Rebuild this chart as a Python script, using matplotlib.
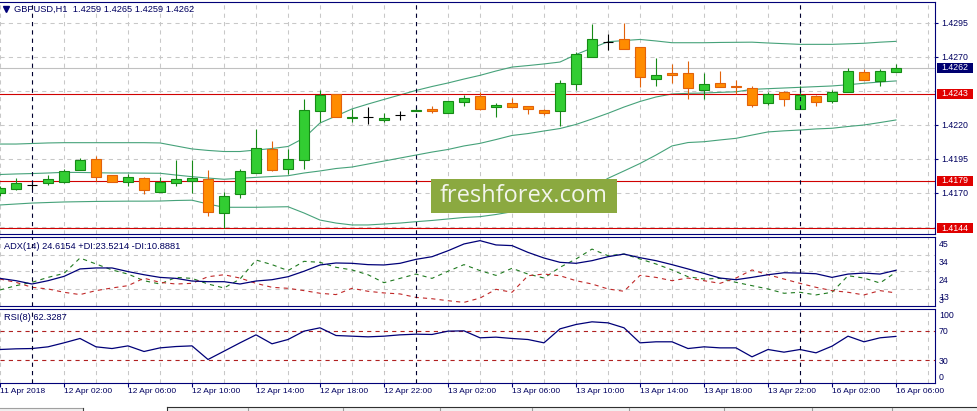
import numpy as np
import matplotlib
matplotlib.use("Agg")
import matplotlib.pyplot as plt
from matplotlib.patches import Rectangle
from matplotlib import rcParams

rcParams["font.family"] = ["Liberation Sans", "DejaVu Sans"]
rcParams["lines.scale_dashes"] = False

W, H = 977, 411
NAVY = "#000078"
TXT = "#000060"
GRID = "#c8c8c8"
FS = 6.3

# GBPUSD H1 bars, 11 Apr 22:00 ... 16 Apr 06:00 (weekend gap after 13 Apr 23:00)
opens = [1.4170, 1.4173, 1.4176, 1.4177, 1.4178, 1.4187, 1.4195, 1.4183, 1.4178, 1.4181,
         1.4171, 1.4177, 1.4179, 1.4180, 1.4155, 1.4169, 1.4185, 1.4202, 1.4188, 1.4194,
         1.4230, 1.4243, 1.4225, 1.4226, 1.4224, 1.4227, 1.4230, 1.4232, 1.4229, 1.4237,
         1.4241, 1.4233, 1.4236, 1.4234, 1.4231, 1.4230, 1.4250, 1.4270, 1.4281, 1.4283,
         1.4277, 1.4254, 1.4258, 1.4258, 1.4246, 1.4251, 1.4249, 1.4247, 1.4236, 1.4244,
         1.4232, 1.4241, 1.4238, 1.4244, 1.4259, 1.4252, 1.4259]
highs = [1.4175, 1.4181, 1.4178, 1.4183, 1.4188, 1.4196, 1.4197, 1.4183, 1.4184, 1.4182,
         1.4182, 1.4194, 1.4194, 1.4187, 1.4171, 1.4188, 1.4217, 1.4208, 1.4202, 1.4239,
         1.4246, 1.4243, 1.4232, 1.4233, 1.4229, 1.4230, 1.4233, 1.4234, 1.4238, 1.4242,
         1.4244, 1.4236, 1.4240, 1.4234, 1.4232, 1.4253, 1.4274, 1.4294, 1.4287, 1.4295,
         1.4277, 1.4269, 1.4265, 1.4267, 1.4258, 1.4260, 1.4253, 1.4249, 1.4244, 1.4245,
         1.4249, 1.4242, 1.4246, 1.4262, 1.4261, 1.4261, 1.4265]
lows = [1.4168, 1.4172, 1.4173, 1.4176, 1.4177, 1.4187, 1.4179, 1.4178, 1.4175, 1.4169,
        1.4171, 1.4175, 1.4170, 1.4153, 1.4144, 1.4166, 1.4185, 1.4186, 1.4184, 1.4188,
        1.4222, 1.4226, 1.4222, 1.4221, 1.4222, 1.4224, 1.4230, 1.4229, 1.4229, 1.4234,
        1.4231, 1.4226, 1.4233, 1.4228, 1.4227, 1.4219, 1.4246, 1.4270, 1.4275, 1.4276,
        1.4248, 1.4249, 1.4251, 1.4239, 1.4239, 1.4248, 1.4243, 1.4233, 1.4235, 1.4234,
        1.4232, 1.4234, 1.4236, 1.4244, 1.4253, 1.4249, 1.4259]
closes = [1.4174, 1.4177, 1.4176, 1.4180, 1.4186, 1.4194, 1.4182, 1.4178, 1.4182, 1.4172,
          1.4178, 1.4180, 1.4181, 1.4156, 1.4168, 1.4186, 1.4203, 1.4187, 1.4195, 1.4231,
          1.4242, 1.4226, 1.4226, 1.4226, 1.4225, 1.4227, 1.4231, 1.4230, 1.4238, 1.4240,
          1.4232, 1.4235, 1.4233, 1.4232, 1.4229, 1.4251, 1.4272, 1.4283, 1.4281, 1.4276,
          1.4255, 1.4257, 1.4257, 1.4247, 1.4250, 1.4248, 1.4248, 1.4235, 1.4243, 1.4239,
          1.4242, 1.4237, 1.4244, 1.4260, 1.4253, 1.4260, 1.4262]

# Bollinger bands
bb_upper = [1.42060, 1.42060, 1.42064, 1.42068, 1.42070, 1.42070, 1.42070, 1.42070, 1.42070, 1.42070,
            1.42068, 1.42046, 1.42024, 1.42013, 1.42005, 1.42005, 1.42016, 1.42027, 1.42042, 1.42104,
            1.42215, 1.42266, 1.42318, 1.42354, 1.42388, 1.42421, 1.42454, 1.42483, 1.42509, 1.42538,
            1.42565, 1.42597, 1.42626, 1.42637, 1.42649, 1.42663, 1.42718, 1.42766, 1.42812, 1.42821,
            1.42829, 1.42818, 1.42805, 1.42805, 1.42805, 1.42807, 1.42808, 1.42809, 1.42803, 1.42798,
            1.42793, 1.42793, 1.42793, 1.42797, 1.42801, 1.42809, 1.42815]
bb_mid = [1.41836, 1.41840, 1.41843, 1.41847, 1.41852, 1.41851, 1.41849, 1.41847, 1.41847, 1.41846,
          1.41845, 1.41832, 1.41820, 1.41810, 1.41801, 1.41808, 1.41815, 1.41821, 1.41827, 1.41847,
          1.41862, 1.41880, 1.41891, 1.41913, 1.41935, 1.41957, 1.41979, 1.42001, 1.42020, 1.42046,
          1.42065, 1.42093, 1.42123, 1.42137, 1.42156, 1.42174, 1.42204, 1.42244, 1.42286, 1.42332,
          1.42373, 1.42406, 1.42428, 1.42433, 1.42435, 1.42440, 1.42444, 1.42462, 1.42467, 1.42472,
          1.42477, 1.42482, 1.42487, 1.42496, 1.42507, 1.42516, 1.42524]
bb_lower = [1.41612, 1.41619, 1.41626, 1.41630, 1.41634, 1.41636, 1.41638, 1.41639, 1.41640, 1.41640,
            1.41641, 1.41645, 1.41647, 1.41619, 1.41595, 1.41595, 1.41595, 1.41597, 1.41599, 1.41553,
            1.41501, 1.41479, 1.41465, 1.41465, 1.41472, 1.41479, 1.41489, 1.41498, 1.41509, 1.41520,
            1.41526, 1.41542, 1.41562, 1.41586, 1.41612, 1.41634, 1.41671, 1.41737, 1.41808, 1.41862,
            1.41917, 1.41979, 1.42046, 1.42071, 1.42077, 1.42090, 1.42102, 1.42126, 1.42149, 1.42157,
            1.42163, 1.42171, 1.42176, 1.42189, 1.42200, 1.42218, 1.42237]

# ADX(14)
adx = [19.7, 18.3, 16.3, 18.3, 20.9, 25.4, 26.0, 26.0, 23.8, 21.9,
       20.3, 19.7, 18.1, 17.7, 17.7, 16.3, 18.1, 18.9, 20.7, 24.0,
       27.8, 29.0, 28.8, 28.0, 27.8, 28.8, 31.2, 32.8, 36.4, 40.5,
       42.5, 39.9, 39.5, 35.4, 32.0, 29.4, 28.8, 30.4, 32.8, 34.4,
       32.2, 30.4, 28.0, 25.4, 22.7, 19.9, 18.9, 20.3, 21.9, 23.1,
       22.9, 22.5, 20.3, 22.3, 22.9, 22.3, 24.6]
plus_di = [12.7, 15.3, 17.3, 20.3, 22.7, 32.0, 28.4, 24.8, 22.3, 18.3,
           16.3, 20.3, 19.7, 16.3, 13.9, 19.3, 30.8, 28.0, 24.4, 30.0,
           29.4, 26.4, 24.8, 21.9, 17.1, 19.7, 22.3, 19.7, 24.0, 28.0,
           24.4, 21.5, 25.8, 22.3, 19.9, 26.4, 31.4, 37.4, 33.4, 34.4,
           31.4, 28.4, 24.8, 20.7, 19.3, 19.7, 17.3, 15.3, 13.3, 10.7,
           11.3, 9.7, 11.3, 21.3, 19.9, 16.9, 23.5]
minus_di = [19.3, 17.3, 14.3, 13.3, 11.3, 9.9, 12.3, 13.9, 15.3, 19.8,
            17.3, 16.3, 16.7, 20.7, 21.9, 19.9, 16.7, 14.3, 13.7, 12.3,
            10.7, 9.9, 13.7, 11.9, 10.9, 10.3, 8.2, 7.4, 6.2, 5.2,
            7.8, 13.1, 11.3, 21.3, 22.3, 21.3, 18.3, 16.3, 13.3, 11.9,
            21.5, 20.3, 18.3, 19.9, 18.3, 16.7, 19.9, 24.8, 21.9, 19.3,
            16.7, 14.3, 12.3, 11.3, 9.7, 12.3, 10.9]

# RSI(8)
rsi = [44.6, 45.5, 45.9, 48.2, 53.6, 59.5, 48.2, 45.9, 49.5, 41.9,
       46.8, 48.6, 49.5, 31.1, 42.3, 53.6, 64.4, 52.3, 58.1, 69.4,
       73.9, 63.5, 62.6, 61.7, 62.6, 64.4, 65.3, 64.9, 69.4, 69.8,
       60.4, 61.3, 59.5, 58.1, 53.6, 72.5, 78.4, 82.0, 80.6, 73.9,
       53.6, 55.0, 55.0, 45.9, 48.2, 46.8, 46.8, 34.7, 44.6, 41.0,
       44.6, 40.1, 49.1, 62.6, 55.0, 60.4, 62.3]

time_labels = ["11 Apr 2018", "12 Apr 02:00", "12 Apr 06:00", "12 Apr 10:00", "12 Apr 14:00",
               "12 Apr 18:00", "12 Apr 22:00", "13 Apr 02:00", "13 Apr 06:00", "13 Apr 10:00",
               "13 Apr 14:00", "13 Apr 18:00", "13 Apr 22:00", "16 Apr 02:00", "16 Apr 06:00"]
time_label_bars = list(range(0, 57, 4))
day_separators = [2, 26, 50]

price_ticks = [1.4170, 1.4195, 1.4220, 1.4270, 1.4295]
price_grid = [1.4145, 1.4170, 1.4195, 1.4220, 1.4245, 1.4270, 1.4295]
levels = [1.4243, 1.4179, 1.4144]
bid = 1.4262
adx_grid = [34, 24, 13]
adx_labels = ["45", "34", "24", "13", "3"]
rsi_levels = [70, 30]

title_main = "GBPUSD,H1  1.4259 1.4265 1.4259 1.4262"
title_adx = "ADX(14) 24.6154 +DI:23.5214 -DI:10.8881"
title_rsi = "RSI(8) 62.3287"

x = np.arange(len(opens))
o, hi, lo, c = map(np.array, (opens, highs, lows, closes))


def fx(px):
    return px / W


def fy(py):
    return 1 - py / H


fig = plt.figure(figsize=(W / 100, H / 100), dpi=100)
PLOT_W = 935


def panel(top, bottom):
    return fig.add_axes([0, fy(bottom), PLOT_W / W, (bottom - top) / H])


ax = panel(2, 234)
ax_adx = panel(237, 305.5)
ax_rsi = panel(308.5, 382.5)

for a in (ax, ax_adx, ax_rsi):
    a.set_xlim(0, 58.4375)
    for s in ("top", "bottom", "right"):
        a.spines[s].set_color(NAVY)
        a.spines[s].set_linewidth(0.8)
    a.spines["left"].set_visible(False)
    for i in range(0, 60, 2):
        a.axvline(i, color=GRID, lw=0.75, ls=(0, (3, 3)), zorder=0.5)
    for i in day_separators:
        a.axvline(i, color="#000030", lw=0.8, ls=(0, (3, 3)), zorder=6)
    a.tick_params(axis="x", bottom=False, labelbottom=False)
    a.yaxis.tick_right()

# main price panel
ax.set_ylim(1.413985, 1.431044)
for p in price_grid:
    ax.axhline(p, color=GRID, lw=0.75, ls=(0, (3, 3)), zorder=0.5)
ax.axhline(bid, color="#c0c0c0", lw=0.8, zorder=0.6)
for band in (bb_upper, bb_mid, bb_lower):
    ax.plot(x, band, color="#46a27a", lw=0.8, zorder=2)
for lv in levels:
    ax.axhline(lv, color="#d00000", lw=0.8, zorder=2.5)

BULL, BULL_EDGE = "#32cd32", "#168a16"
BEAR, BEAR_EDGE = "#ff8c00", "#e2620a"
up = c > o
dn = c < o
dj = c == o
wick_col = np.where(up, BULL_EDGE, np.where(dn, BEAR_EDGE, "black"))
ax.vlines(x, lo, hi, colors=wick_col, lw=0.8, zorder=3)
ax.bar(x[up], (c - o)[up], bottom=o[up], width=0.6, color=BULL,
       edgecolor=BULL_EDGE, lw=0.8, zorder=4)
ax.bar(x[dn], (o - c)[dn], bottom=c[dn], width=0.6, color=BEAR,
       edgecolor=BEAR_EDGE, lw=0.8, zorder=4)
ax.hlines(o[dj], x[dj] - 0.32, x[dj] + 0.32, colors="black", lw=0.8, zorder=4)

ax.set_yticks(price_ticks, [f"{p:.4f}" for p in price_ticks])
ax.tick_params(axis="y", right=True, left=False, labelright=True, labelleft=False,
               length=2.5, width=0.8, color=NAVY, labelcolor=TXT, labelsize=FS, pad=2.3)

ytr = ax.get_yaxis_transform()
box_h = 10 * (1.431044 - 1.413985) / 232
for price, fc in [(bid, "#000070")] + [(lv, "#e00000") for lv in levels]:
    ax.add_patch(Rectangle((937 / PLOT_W, price - box_h / 2), 36 / PLOT_W, box_h,
                           transform=ytr, fc=fc, ec="none", clip_on=False, zorder=8))
    ax.text(955 / PLOT_W, price, f"{price:.4f}", transform=ytr, ha="center", va="center",
            color="white", fontsize=FS, zorder=9, clip_on=False)

ax.text(fx(14), fy(9.5), title_main, transform=fig.transFigure, ha="left", va="center",
        fontsize=6.7, color=TXT, zorder=5)
ax.plot([fx(6)], [fy(9.5)], marker="v", ms=4, color=NAVY, transform=fig.transFigure,
        clip_on=False, zorder=5)

# ADX panel
ax_adx.set_ylim(3.31, 44.70)
for v in adx_grid:
    ax_adx.axhline(v, color=GRID, lw=0.75, ls=(0, (3, 3)), zorder=0.5)
ax_adx.plot(x, plus_di, color="#1f7a1f", lw=0.8, ls=(0, (3, 3)), zorder=2.5)
ax_adx.plot(x, minus_di, color="#c02828", lw=0.8, ls=(0, (3, 3)), zorder=2.5)
ax_adx.plot(x, adx, color=NAVY, lw=0.9, zorder=3)
ax_adx.set_yticks([40.9, 29.6, 18.9, 8.9, 6.9], adx_labels)
ax_adx.tick_params(axis="y", right=True, left=False, labelright=True, labelleft=False,
                   length=0, labelcolor=TXT, labelsize=FS, pad=2.9)
ax_adx.text(fx(4), fy(246.3), title_adx, transform=fig.transFigure, ha="left", va="center",
            fontsize=6.7, color=TXT, zorder=5)

# RSI panel
ax_rsi.set_ylim(0, 100)
for lv in rsi_levels:
    ax_rsi.axhline(lv, color="#b02020", lw=0.8, ls=(0, (3, 3)), zorder=1)
ax_rsi.plot(x, rsi, color=NAVY, lw=0.9, zorder=3)
ax_rsi.set_yticks([91.5, 70, 30, 7.8], ["100", "70", "30", "0"])
ax_rsi.tick_params(axis="y", right=True, left=False, labelright=True, labelleft=False,
                   length=0, labelcolor=TXT, labelsize=FS, pad=2.9)
ax_rsi.text(fx(4), fy(317.7), title_rsi, transform=fig.transFigure, ha="left", va="center",
            fontsize=6.7, color=TXT, zorder=5)

ax_rsi.set_xticks(time_label_bars, time_labels)
ax_rsi.tick_params(axis="x", bottom=True, labelbottom=True, length=3, width=0.8,
                   color=NAVY, labelcolor=TXT, labelsize=6.0, pad=1)
for t in ax_rsi.get_xticklabels():
    t.set_ha("left")

# overlay in pixel coordinates: watermark and terminal tab strip
ov = fig.add_axes([0, 0, 1, 1], zorder=10)
ov.set_xlim(0, W)
ov.set_ylim(H, 0)
ov.axis("off")
ov.add_patch(Rectangle((431, 179.5), 186, 33.2, fc="#8ba940", ec="none"))
ov.text(524, 195.5, "freshforex.com", ha="center", va="center", fontsize=17,
        family="Open Sans", color="#f3f5ec")

ov.add_patch(Rectangle((0, 407.5), 83, 4, fc="#f0f0f0", ec="none"))
ov.plot([0, 83], [407.5, 407.5], color="#a0a0a0", lw=0.8)
ov.plot([83, 83], [407.5, 411], color="#404040", lw=0.8)
ov.add_patch(Rectangle((167, 407), W - 167, 4, fc="#f0f0f0", ec="none"))
ov.plot([167, W], [407, 407], color="#303030", lw=0.8)
ov.plot([167, 167], [407, 411], color="#303030", lw=0.8)
for sx in [248, 343, 440, 532, 629, 724, 812, 892]:
    ov.plot([sx, sx], [408, 411], color="#9a9a9a", lw=0.8)

fig.savefig("out.png", dpi=100)
